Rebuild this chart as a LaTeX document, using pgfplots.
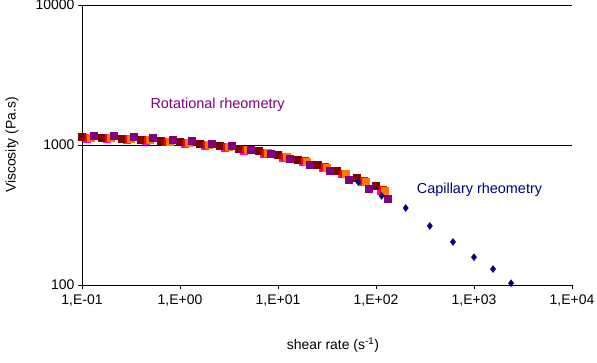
\documentclass[border=0pt]{standalone}
\usepackage{fontspec}
\setmainfont{Liberation Sans}
\usepackage{pgfplots}
\pgfplotsset{compat=1.18}
\definecolor{cmaroon}{RGB}{128,0,0}
\definecolor{cred}{RGB}{255,0,0}
\definecolor{corange}{RGB}{255,120,0}
\definecolor{cpink}{RGB}{255,0,255}
\definecolor{cpurple}{RGB}{128,0,128}
\definecolor{cnavy}{RGB}{0,0,128}
\begin{document}
\begin{tikzpicture}
\begin{axis}[
  scale only axis, width=490bp, height=280bp,
  xmode=log, ymode=log, xmin=0.1, xmax=10000, ymin=100, ymax=10000,
  axis x line*=bottom, axis y line*=left,
  axis line style={black, line width=0.8bp},
  xtick={0.1,1,10,100,1000,10000},
  xticklabels={{1,E-01},{1,E+00},{1,E+01},{1,E+02},{1,E+03},{1,E+04}},
  ytick={100,1000,10000}, yticklabels={100,1000,10000},
  xminorticks=false, yminorticks=false,
  tick align=outside, major tick length=4bp,
  tick style={black, line width=0.8bp},
  ymajorgrids, grid style={black, line width=0.8bp},
  ticklabel style={font=\fontsize{14}{16}\selectfont},
  xticklabel style={yshift=-2bp},
  label style={font=\fontsize{14}{16}\selectfont},
  xlabel={shear rate (s\textsuperscript{-1})},
  ylabel={Viscosity (Pa.s)},
  xlabel style={at={(axis description cs:0.512,-0.214)}, anchor=center},
  ylabel style={at={(axis description cs:-0.143,0.5)}, anchor=center},
  clip=false,
]
% pink
\addplot[only marks, mark=square*, mark size=3.5bp, color=cpink] coordinates {
(0.1125,1118) (0.1783,1106) (0.2826,1093) (0.4479,1072) (0.7099,1048) (1.125,1026) (1.783,990) (2.826,956)
(4.479,918) (7.099,872) (11.25,815) (17.83,756) (28.26,690) (44.79,619) (70.99,550) (112.5,475)};
% maroon
\addplot[only marks, mark=square*, mark size=3.5bp, color=cmaroon] coordinates {
(0.1,1140) (0.1585,1127) (0.2512,1116) (0.3981,1099) (0.631,1069) (1,1056) (1.585,1017) (2.512,984)
(3.981,947) (6.31,906) (10,848) (15.85,791) (25.12,728) (39.81,652) (63.1,588) (100,509)};
% red
\addplot[only marks, mark=square*, mark size=3.5bp, color=cred] coordinates {
(0.118,1135) (0.187,1123) (0.2964,1110) (0.4698,1088) (0.7446,1064) (1.18,1042) (1.870,1005) (2.964,971)
(4.698,932) (7.446,885) (11.8,827) (18.70,768) (29.64,700) (46.98,628) (74.46,558) (118,482)};
% orange
\addplot[only marks, mark=square*, mark size=3.5bp, color=corange] coordinates {
(0.1236,1134) (0.1959,1122) (0.3105,1108) (0.4921,1085) (0.7799,1063) (1.236,1038) (1.959,1002) (3.105,967)
(4.921,928) (7.799,879) (12.36,821) (19.59,761) (31.05,692) (49.21,622) (77.99,550) (123.6,475)};
% purple
\addplot[only marks, mark=square*, mark size=3.5bp, color=cpurple] coordinates {
(0.1327,1172) (0.2104,1166) (0.3334,1146) (0.5284,1127) (0.8375,1099) (1.327,1069) (2.104,1028) (3.334,984)
(5.284,931) (8.375,873) (13.27,794) (21.04,728) (33.34,652) (52.84,569) (83.75,491) (132.7,416)};
% capillary
\addplot[only marks, mark=diamond*, mark size=3.5bp, color=cnavy] coordinates {
(66,544) (114,433) (201,355) (354,264) (610,203) (1000,158) (1566,130) (2393,103)};
\node[anchor=west, inner sep=0pt, text=cpurple, font=\fontsize{14.5}{16}\selectfont] at (axis cs:0.498,1946) {Rotational rheometry};
\node[anchor=west, inner sep=0pt, text=cnavy, font=\fontsize{14.5}{16}\selectfont] at (axis cs:260,481) {Capillary rheometry};
\end{axis}
\pgfresetboundingbox
\path[use as bounding box] (-82bp,-78bp) rectangle (515bp,285bp);
\end{tikzpicture}
\end{document}
